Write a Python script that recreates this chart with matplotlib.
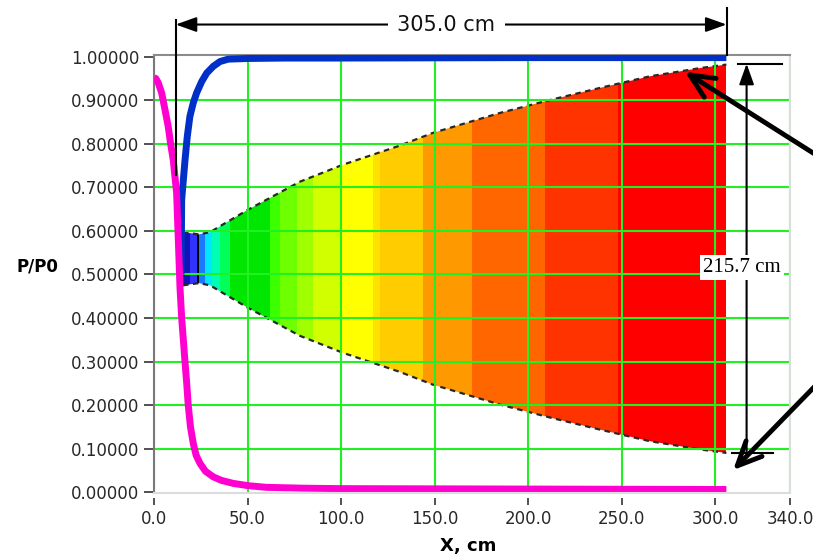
import numpy as np
import matplotlib.pyplot as plt
from matplotlib.patches import Polygon

# P/P0 along the nozzle, supersonic branch (magenta)
x_mag = [0, 1, 2.3, 4.1, 5.9, 7.6, 8.9, 10.3, 11.2, 12.1, 13.0, 13.9, 14.8, 15.7, 16.6, 17.5, 18.3,
         19.5, 21, 22.5, 24.6, 27.5, 31.7, 36, 42.4, 50, 60, 80, 100, 200, 306]
p_mag = [0.952, 0.95, 0.94, 0.917, 0.878, 0.84, 0.80, 0.763, 0.725, 0.687, 0.58, 0.47, 0.40, 0.35,
         0.298, 0.25, 0.20, 0.15, 0.112, 0.085, 0.066, 0.048, 0.035, 0.027, 0.02, 0.015, 0.011,
         0.009, 0.008, 0.007, 0.006]

# P/P0 subsonic branch (blue)
x_blue = [14.5, 14.6, 14.8, 15.7, 16.6, 17.8, 19.2, 21, 22.8, 25.5, 28.2, 31.7, 35.3, 39.7, 50,
          70, 100, 200, 306]
p_blue = [0.50, 0.55, 0.671, 0.717, 0.763, 0.817, 0.863, 0.894, 0.917, 0.943, 0.9625, 0.978,
          0.989, 0.9945, 0.996, 0.997, 0.997, 0.998, 0.998]

# nozzle upper wall, drawn in the chart frame; lower wall mirrored about the axis
x_wall = [15.5, 24, 30, 35, 50, 78, 101, 131.5, 149, 185, 212, 238, 265, 292, 306]
y_wall = [0.597, 0.592, 0.597, 0.61, 0.648, 0.713, 0.752, 0.796, 0.825, 0.871, 0.901, 0.928,
          0.955, 0.974, 0.982]
y_axis_line = 0.536

# colour bands along the nozzle
band_edges = [15.5, 19.0, 23.2, 24.2, 27.3, 30.8, 35.3, 40.6, 62, 67.3, 76.3, 85.1, 99.4,
              117.2, 120.8, 143.9, 169.8, 209, 248.2, 306]
band_colors = ['#1414b4', '#3232ff', '#000000', '#1e78ff', '#00e6ff', '#00ffb4', '#00ff5a',
               '#00e600', '#3cff00', '#6eff00', '#a0ff00', '#d2ff00', '#ffff00', '#ffe100',
               '#ffcc00', '#ff9900', '#ff6600', '#ff3300', '#ff0000']

x_ticks = [0, 50, 100, 150, 200, 250, 300, 340]

fig = plt.figure(figsize=(8.13, 5.59), dpi=100)
ax = fig.add_axes([0.1894, 0.1181, 0.7823, 0.7835])

ax.set_xlim(0, 340)
ax.set_ylim(-0.002, 1.004)

# nozzle shape
x_wall = np.array(x_wall)
y_top = np.array(y_wall)
y_bot = 2 * y_axis_line - y_top
outline = np.column_stack([np.r_[x_wall, x_wall[::-1]], np.r_[y_top, y_bot[::-1]]])
nozzle = Polygon(outline, closed=True, facecolor='none', edgecolor='none', transform=ax.transData)
ax.add_patch(nozzle)

bars = ax.bar(band_edges[:-1], 1.0, width=np.diff(band_edges), bottom=0, align='edge',
              color=band_colors, linewidth=0, zorder=1)
for b in bars:
    b.set_clip_path(nozzle)

ax.plot(x_wall, y_top, color='#282828', lw=1.6, dashes=(2.5, 2), zorder=1.2)
ax.plot(x_wall, y_bot, color='#282828', lw=1.6, dashes=(2.5, 2), zorder=1.2)

# grid
ax.set_axisbelow('line')
ax.set_xticks(x_ticks)
ax.set_xticklabels(['%.1f' % v for v in x_ticks])
yt = np.arange(0, 1.01, 0.1)
ax.set_yticks(yt)
ax.set_yticklabels(['%.5f' % v for v in yt])
ax.grid(True, color='#22f022', lw=1.5)
for g in [ax.yaxis.get_gridlines()[0], ax.yaxis.get_gridlines()[-1],
          ax.xaxis.get_gridlines()[0], ax.xaxis.get_gridlines()[-1]]:
    g.set_visible(False)

# curves
ax.plot(x_blue, p_blue, color='#0030c8', lw=5, zorder=2.6, solid_capstyle='butt',
        solid_joinstyle='round')
ax.plot(x_mag, p_mag, color='#ff00d0', lw=5, zorder=3, solid_capstyle='butt',
        solid_joinstyle='round')

# frame
ax.spines['left'].set_color('#7a7a7a')
ax.spines['left'].set_linewidth(1.5)
ax.spines['top'].set_color('#8c8c8c')
ax.spines['top'].set_linewidth(1.5)
ax.spines['right'].set_color('#dcdcdc')
ax.spines['right'].set_linewidth(1.5)
ax.spines['bottom'].set_position(('outward', 3.6))
ax.spines['bottom'].set_color('none')
ax.plot([0, 1], [0, 0], transform=ax.transAxes, color='#dcdcdc', lw=1.5, clip_on=False, zorder=4)

ax.tick_params(axis='y', direction='out', length=7, width=1.2, color='#333333', pad=3.5,
               labelsize=12, labelcolor='#282828')
ax.tick_params(axis='x', direction='out', length=5, width=1.2, color='#333333', pad=4,
               labelsize=12, labelcolor='#282828')

fig.text(37 / 813, 1 - 266.5 / 559, 'P/P0', fontsize=12, fontweight='bold', ha='center', va='center')
fig.text(468 / 813, 1 - 546 / 559, 'X, cm', fontsize=13, fontweight='bold', ha='center', va='center')

# length dimension
ax.plot([11.6, 11.6], [0.729, 1.085], color='black', lw=1.5, clip_on=False, zorder=5)
ax.plot([306.1, 306.1], [1.005, 1.113], color='black', lw=1.5, clip_on=False, zorder=5)
ax.annotate('', xy=(11.6, 1.074), xytext=(306.1, 1.074),
            arrowprops=dict(arrowstyle='<|-|>,head_length=0.7,head_width=0.25', color='black',
                            lw=1.5, mutation_scale=18, shrinkA=0, shrinkB=0),
            annotation_clip=False)
ax.text(156.3, 1.074, '305.0 cm', fontsize=15, ha='center', va='center', color='#111111',
        bbox=dict(boxstyle='square,pad=0.45', facecolor='white', edgecolor='none'),
        clip_on=False, zorder=6)

# exit diameter dimension
ax.plot([312.1, 335.6], [0.984, 0.984], color='black', lw=1.5, clip_on=False, zorder=5)
ax.plot([308.8, 330.8], [0.0903, 0.0903], color='black', lw=1.5, clip_on=False, zorder=5)
ax.annotate('', xy=(316.8, 0.984), xytext=(316.8, 0.0903),
            arrowprops=dict(arrowstyle='-|>,head_length=0.7,head_width=0.25', color='black',
                            lw=1.5, mutation_scale=18, shrinkA=0, shrinkB=0),
            annotation_clip=False, zorder=5)
ax.text(314.3, 0.516, '215.7 cm', fontsize=15, family='Liberation Serif', ha='center', va='center',
        bbox=dict(boxstyle='square,pad=0.15', facecolor='white', edgecolor='none'), zorder=6)

# pointer arrows
ax.annotate('', xy=(283.8, 0.9655), xytext=(356, 0.769),
            arrowprops=dict(arrowstyle='->,head_length=0.87,head_width=0.4', color='black', lw=3.5,
                            mutation_scale=20, shrinkA=0, shrinkB=0),
            annotation_clip=False, zorder=7)
ax.annotate('', xy=(309.6, 0.0506), xytext=(356, 0.255),
            arrowprops=dict(arrowstyle='->,head_length=0.87,head_width=0.4', color='black', lw=3.5,
                            mutation_scale=20, shrinkA=0, shrinkB=0),
            annotation_clip=False, zorder=7)

fig.savefig('out.png', dpi=100)
